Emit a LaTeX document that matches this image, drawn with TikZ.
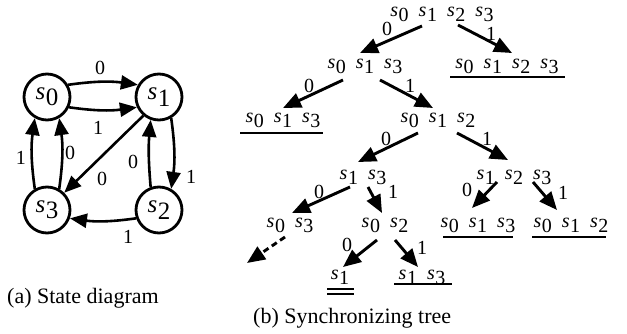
\documentclass[tikz,border=0pt]{standalone}
\usepackage{fontspec}
\setmainfont{Liberation Serif}
\usetikzlibrary{arrows.meta}
\newcommand\sv[1]{\textit{s}\kern0.5pt\raisebox{-0.25em}{#1}}
\newcommand\gp{\hspace{10pt}}
\begin{document}
\begin{tikzpicture}[x=1pt,y=-1pt,
 state/.style={circle,draw,line width=2.8pt,minimum size=46pt,inner sep=0pt,font=\fontsize{25}{25}\selectfont},
 sedge/.style={line width=2.6pt,-{Triangle[length=17pt,width=14pt]}},
 tedge/.style={line width=2.9pt,-{Triangle[length=18pt,width=15pt]}},
 lbl/.style={font=\fontsize{20}{20}\selectfont,inner sep=0pt},
 grp/.style={font=\fontsize{20}{20}\selectfont,inner sep=0pt},
 ul/.style={line width=2.3pt},
 captxt/.style={font=\fontsize{22}{22}\selectfont,inner sep=0pt,anchor=west}]
\useasboundingbox (0,0) rectangle (627,334);
% state diagram
\node[state] (s0) at (47,97) {\sv0};
\node[state] (s1) at (159,97) {\sv1};
\node[state] (s3) at (47,210) {\sv3};
\node[state] (s2) at (159,210) {\sv2};
\draw[sedge] (s0.30) to[bend left=8] (s1.150);
\draw[sedge] (s0.-25) to[bend right=8] (s1.205);
\draw[sedge] (s3.120) to[bend left=8] (s0.240);
\draw[sedge] (s3.60) to[bend right=8] (s0.300);
\draw[sedge] (s1.230) -- (s3.45);
\draw[sedge] (s2.110) to[bend left=5] (s1.250);
\draw[sedge] (s1.300) to[bend left=8] (s2.60);
\draw[sedge] (s2.200) to[bend left=8] (s3.340);
\node[lbl] (l1) at (100,68) {0};
\node[lbl] (l2) at (98,128) {1};
\node[lbl] (l3) at (21,158) {1};
\node[lbl] (l4) at (70,153) {0};
\node[lbl] (l5) at (102,179) {0};
\node[lbl] (l6) at (133,162) {0};
\node[lbl] (l7) at (191,177) {1};
\node[lbl] (l8) at (128,237) {1};
% tree
\node[grp] (t0) at (442,14) {\sv0\gp\sv1\gp\sv2\gp\sv3};
\node[grp] (t00) at (365,66) {\sv0\gp\sv1\gp\sv3};
\node[grp] (t01) at (507,66) {\sv0\gp\sv1\gp\sv2\gp\sv3};
\node[grp] (t000) at (283,120) {\sv0\gp\sv1\gp\sv3};
\node[grp] (t001) at (438,120) {\sv0\gp\sv1\gp\sv2};
\node[grp] (t0010) at (363,177) {\sv1\gp\sv3};
\node[grp] (t0011) at (514,177) {\sv1\gp\sv2\gp\sv3};
\node[grp] (t00100) at (290,225) {\sv0\gp\sv3};
\node[grp] (t00101) at (385,225) {\sv0\gp\sv2};
\node[grp] (t00110) at (478,225) {\sv0\gp\sv1\gp\sv3};
\node[grp] (t00111) at (571,225) {\sv0\gp\sv1\gp\sv2};
\node[grp] (t001010) at (340,277) {\sv1};
\node[grp] (t001011) at (422,277) {\sv1\gp\sv3};
\coordinate (dend) at (247,263);
% underlines
\draw[ul] ([shift={(-57,11)}]t01.center) -- ([shift={(58,11)}]t01.center);
\draw[ul] ([shift={(-43,13)}]t000.center) -- ([shift={(40,13)}]t000.center);
\draw[ul] ([shift={(-35,12)}]t00110.center) -- ([shift={(35,12)}]t00110.center);
\draw[ul] ([shift={(-39,12)}]t00111.center) -- ([shift={(35,12)}]t00111.center);
\draw[ul] ([shift={(-28,7)}]t001011.center) -- ([shift={(30,7)}]t001011.center);
\draw[line width=1.8pt] ([shift={(-13,12)}]t001010.center) -- ([shift={(14,12)}]t001010.center);
\draw[line width=1.8pt] ([shift={(-13,17)}]t001010.center) -- ([shift={(14,17)}]t001010.center);
% arrows
\draw[tedge] ([shift={(-20,12)}]t0.center) -- ([shift={(-5,-13)}]t00.center);
\draw[tedge] ([shift={(16,11)}]t0.center) -- ([shift={(5,-13)}]t01.center);
\draw[tedge] ([shift={(-22,14)}]t00.center) -- ([shift={(0,-12)}]t000.center);
\draw[tedge] ([shift={(15,14)}]t00.center) -- ([shift={(-5,-12)}]t001.center);
\draw[tedge] ([shift={(-20,13)}]t001.center) -- ([shift={(-5,-15)}]t0010.center);
\draw[tedge] ([shift={(19,13)}]t001.center) -- ([shift={(-6,-17)}]t0011.center);
\draw[tedge] ([shift={(-13,10)}]t0010.center) -- ([shift={(2,-12)}]t00100.center);
\draw[tedge] ([shift={(5,10)}]t0010.center) -- ([shift={(-3,-12)}]t00101.center);
\draw[tedge] ([shift={(-17,5)}]t0011.center) -- ([shift={(-6,-17)}]t00110.center);
\draw[tedge] ([shift={(19,5)}]t0011.center) -- ([shift={(-14,-15)}]t00111.center);
\draw[tedge,dashed,dash pattern=on 6pt off 4pt] ([shift={(-5,12)}]t00100.center) -- (dend);
\draw[tedge] ([shift={(-8,15)}]t00101.center) -- ([shift={(3,-10)}]t001010.center);
\draw[tedge] ([shift={(10,15)}]t00101.center) -- ([shift={(-4,-10)}]t001011.center);
\node[lbl] (a1) at (387,29) {0};
\node[lbl] (a2) at (491,34) {1};
\node[lbl] (a3) at (309,86) {0};
\node[lbl] (a4) at (410,86) {1};
\node[lbl] (a5) at (386,139) {0};
\node[lbl] (a6) at (487,139) {1};
\node[lbl] (a7) at (319,192) {0};
\node[lbl] (a8) at (393,192) {1};
\node[lbl] (a9) at (467,190) {0};
\node[lbl] (a10) at (563,193) {1};
\node[lbl] (a11) at (347,245) {0};
\node[lbl] (a12) at (422,248) {1};
% captions
\node[captxt] (ca) at (7,298) {(a) State diagram};
\node[captxt] (cb) at (253,318) {(b) Synchronizing tree};
\end{tikzpicture}
\end{document}
